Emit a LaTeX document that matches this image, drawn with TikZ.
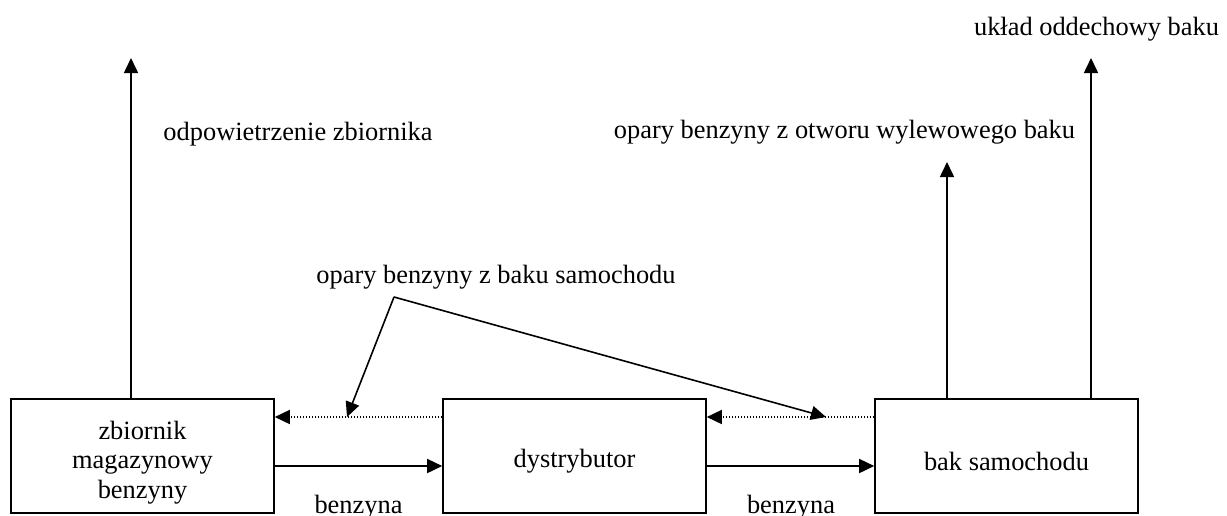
\documentclass[tikz,border=0pt]{standalone}
\usepackage{fontspec}
\setmainfont{Liberation Serif}
\usetikzlibrary{arrows.meta}
\begin{document}
\begin{tikzpicture}[x=0.5pt,y=-0.5pt,
  every node/.style={font=\fontsize{13.2pt}{14.75pt}\selectfont},
  boxnode/.style={draw,line width=0.8pt,minimum width=131.5pt,minimum height=57pt,inner sep=0pt},
  boxtext/.style={inner sep=0pt,align=center},
  lbl/.style={anchor=base,inner sep=0pt},
  arr/.style={line width=0.8pt,-{Triangle[length=7.5pt,width=7pt]}},
  dotarr/.style={line width=0.8pt,dash pattern=on 0.75pt off 0.75pt,-{Triangle[length=7.5pt,width=7pt]}}]
\useasboundingbox (0,0) rectangle (1227,515);
% boxes
\node[boxnode] (b1) at (142.5,456) {};
\node[boxnode] (b2) at (574.5,456) {};
\node[boxnode] (b3) at (1006.5,456) {};
\node[boxtext] (b1t) at (142.5,462.5) {zbiornik\\magazynowy\\benzyny};
\node[boxtext] (b2t) at (574.5,461) {dystrybutor};
\node[boxtext] (b3t) at (1006.5,461) {bak samochodu};
% helper coordinates
\coordinate (ys) at (0,466);
\coordinate (yd) at (0,417);
\coordinate (t1) at (131,58);
\coordinate (t2) at (947,162);
\coordinate (t3) at (1091,58);
\coordinate (v) at (394,297);
\coordinate (a1) at (347,417);
\coordinate (a2) at (826,417);
% labels
\node[lbl] (l1) at (298,140) {odpowietrzenie zbiornika};
\node[lbl] (l2) at (844.5,138) {opary benzyny z otworu wylewowego baku};
\node[lbl] (l3) at (1096.5,35) {układ oddechowy baku};
\node[lbl] (l4) at (496,283) {opary benzyny z baku samochodu};
\node[lbl] (bz1) at (358.5,513) {benzyna};
\node[lbl] (bz2) at (791,513) {benzyna};
% solid flow arrows
\draw[arr] (b1.east |- ys) -- (b2.west |- ys);
\draw[arr] (b2.east |- ys) -- (b3.west |- ys);
% dotted return arrows
\draw[dotarr] (b2.west |- yd) -- (b1.east |- yd);
\draw[dotarr] (b3.west |- yd) -- (b2.east |- yd);
% vertical arrows
\draw[arr] (t1 |- b1.north) -- (t1);
\draw[arr] (t2 |- b3.north) -- (t2);
\draw[arr] (t3 |- b3.north) -- (t3);
% vapour pointers
\draw[arr] (v) -- (a1);
\draw[arr] (v) -- (a2);
\end{tikzpicture}
\end{document}
